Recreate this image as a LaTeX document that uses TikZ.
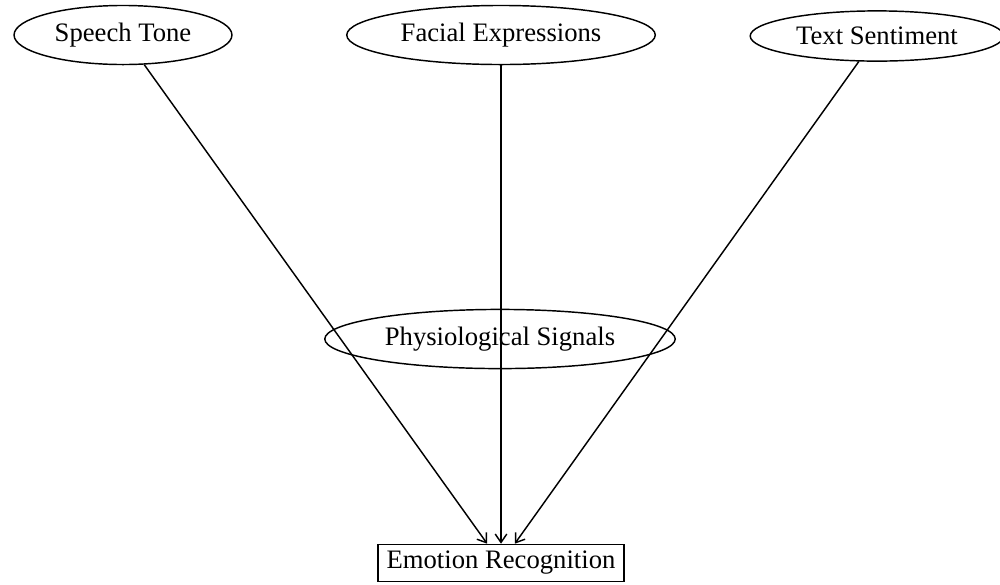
\documentclass[tikz,border=0pt]{standalone}
\usepackage{fontspec}
\setmainfont{Liberation Serif}
\usetikzlibrary{shapes.geometric,arrows.meta}
\begin{document}
\begin{tikzpicture}[x=0.379pt,y=-0.379pt,line width=0.55pt,
  src/.style={draw,ellipse,font=\fontsize{10.1}{12}\selectfont},
  tgt/.style={draw,rectangle,inner ysep=2.6pt,font=\fontsize{10.1}{12}\selectfont},
  conn/.style={-{Straight Barb[length=3.2pt,width=4.4pt]}}]
\useasboundingbox (0,0) rectangle (1000,584);
\node[src] (speech) at (123,35) {Speech Tone};
\node[src] (facial) at (501,35) {Facial Expressions};
\node[src] (text) at (877,36) {Text Sentiment};
\node[src] (phys) at (500,339) {Physiological Signals};
\node[tgt] (emo) at (501,563) {Emotion Recognition};
\draw[conn] (speech) -- (emo);
\draw[conn] (facial) -- (emo);
\draw[conn] (text) -- (emo);
\end{tikzpicture}
\end{document}
